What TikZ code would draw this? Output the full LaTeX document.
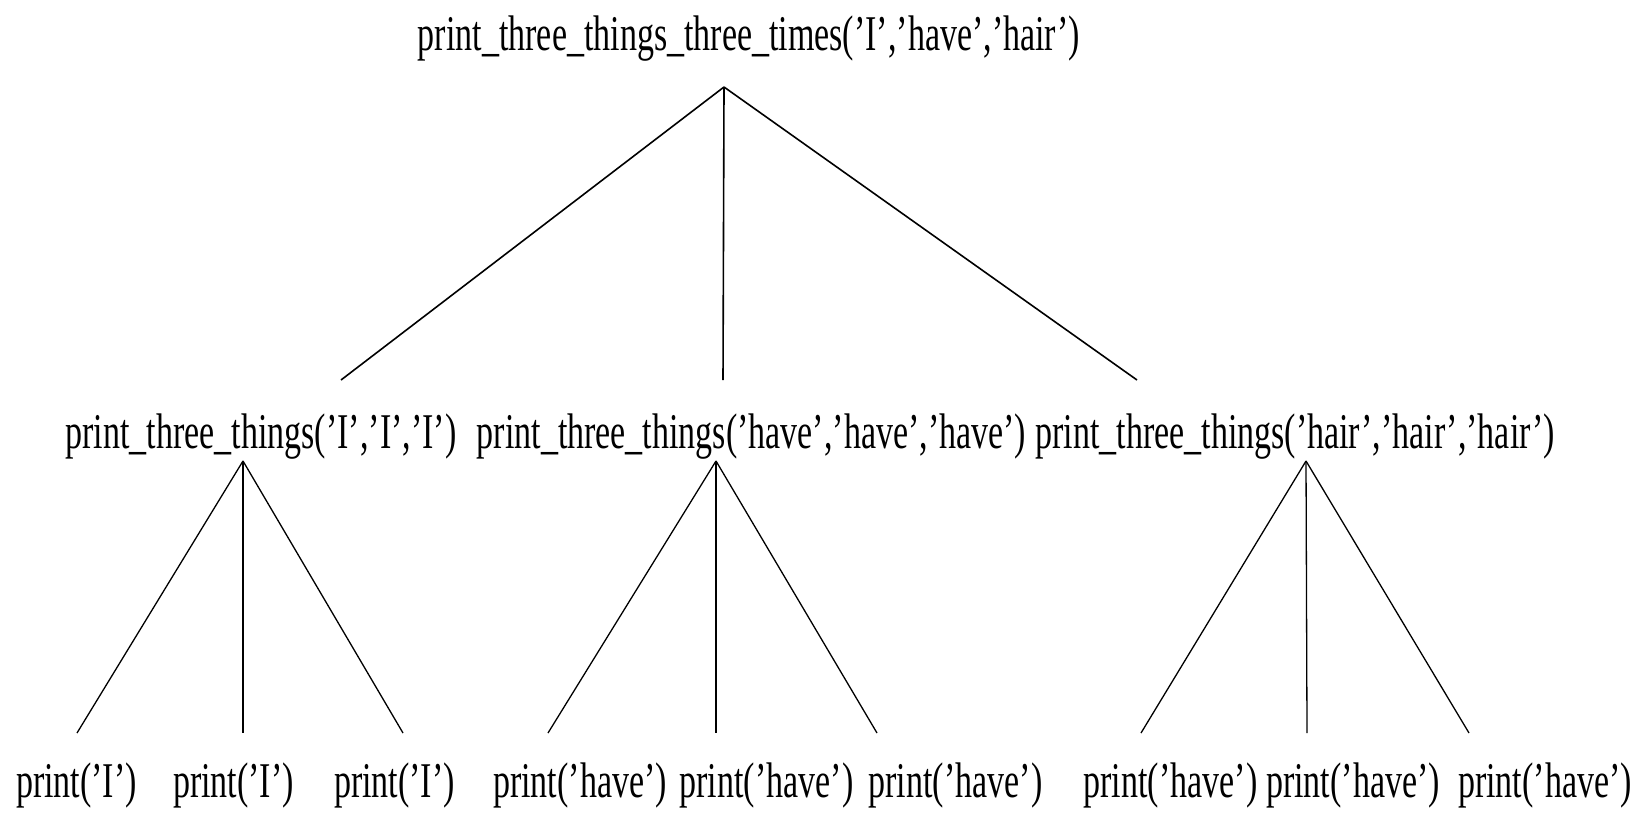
\documentclass[tikz,border=0pt]{standalone}
\usepackage{fontspec}
\newfontfamily\cond[FakeStretch=0.68]{Liberation Serif}
\begin{document}
\begin{tikzpicture}[x=1pt,y=-1pt,
  lbl/.style={anchor=base,inner sep=0pt,font=\cond\fontsize{50}{52}\selectfont},
  edge/.style={line width=1.6pt},
  edgeb/.style={line width=1.3pt}]
\useasboundingbox[fill=white] (0,0) rectangle (1648,814);
% root
\node[lbl] (root) at (749,50) {print\_three\_things\_three\_times(’I’,’have’,’hair’)};
% middle row
\node[lbl] (mA) at (261,448) {print\_three\_things(’I’,’I’,’I’)};
\node[lbl] (mB) at (751.5,448) {print\_three\_things(’have’,’have’,’have’)};
\node[lbl] (mC) at (1295,448) {print\_three\_things(’hair’,’hair’,’hair’)};
% leaves
\node[lbl] (l1) at (76.5,797) {print(’I’)};
\node[lbl] (l2) at (233.5,797) {print(’I’)};
\node[lbl] (l3) at (394.5,797) {print(’I’)};
\node[lbl] (l4) at (580,797) {print(’have’)};
\node[lbl] (l5) at (766.5,797) {print(’have’)};
\node[lbl] (l6) at (955.5,797) {print(’have’)};
\node[lbl] (l7) at (1170.5,797) {print(’have’)};
\node[lbl] (l8) at (1353,797) {print(’have’)};
\node[lbl] (l9) at (1545,797) {print(’have’)};
% connector points
\coordinate (rA) at (724,87);
\coordinate (eA) at (341,380);
\coordinate (eB) at (723,380);
\coordinate (eC) at (1137,380);
\coordinate (aA) at (243,461);
\coordinate (aB) at (716,461);
\coordinate (aC) at (1306,461);
\coordinate (e1) at (77,733);
\coordinate (e2) at (243,733);
\coordinate (e3) at (403,733);
\coordinate (e4) at (548,733);
\coordinate (e5) at (716,733);
\coordinate (e6) at (877,733);
\coordinate (e7) at (1141,733);
\coordinate (e8) at (1307,733);
\coordinate (e9) at (1469,733);
\draw[edge] (rA) -- (eA);
\draw[edge] (rA) -- (eB);
\draw[edge] (rA) -- (eC);
\draw[edgeb] (aA) -- (e1);
\draw[edgeb] (aA) -- (e2);
\draw[edgeb] (aA) -- (e3);
\draw[edgeb] (aB) -- (e4);
\draw[edgeb] (aB) -- (e5);
\draw[edgeb] (aB) -- (e6);
\draw[edgeb] (aC) -- (e7);
\draw[edgeb] (aC) -- (e8);
\draw[edgeb] (aC) -- (e9);
\end{tikzpicture}
\end{document}
